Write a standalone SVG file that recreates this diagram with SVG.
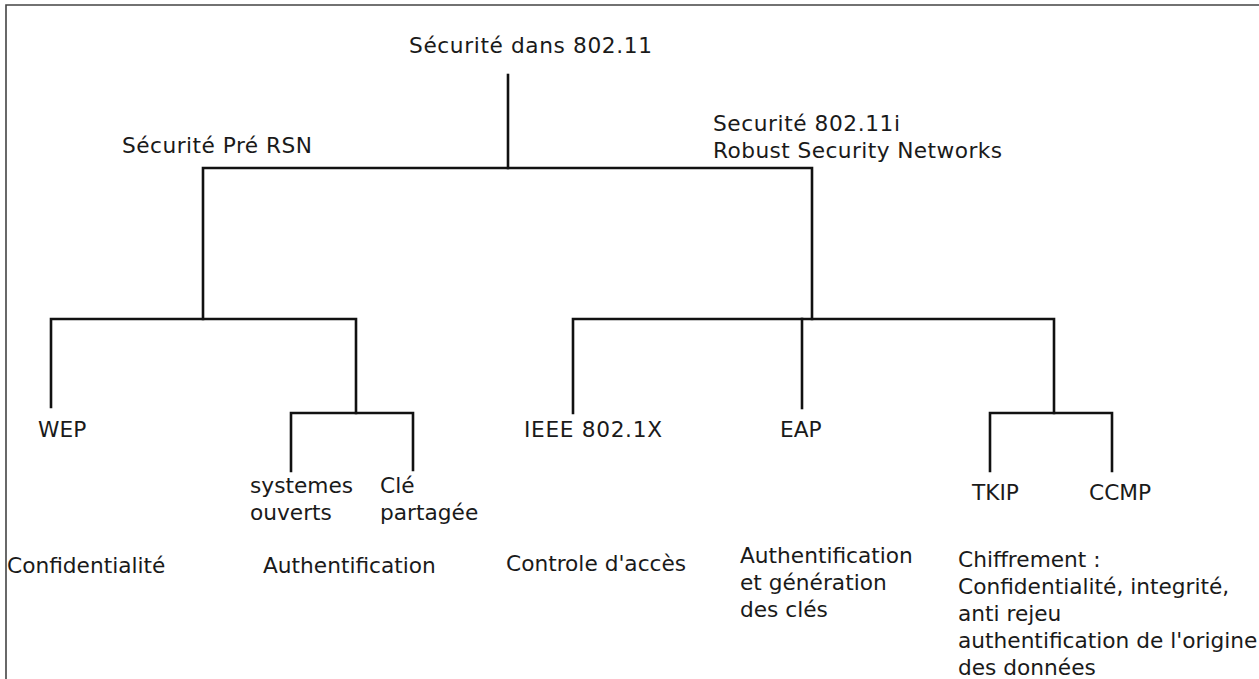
<svg xmlns="http://www.w3.org/2000/svg" width="1259" height="679" viewBox="0 0 1259 679">
<style>
text{font-family:"DejaVu Sans","Liberation Sans",sans-serif;font-size:21.7px;fill:#1a1a1a}
.c{fill:none;stroke:#111;stroke-width:2.6;stroke-linecap:square;stroke-linejoin:miter}
.b{fill:none;stroke:#444;stroke-width:1.6}
</style>
<rect width="1259" height="679" fill="#fff"/>
<path class="b" d="M6,679 V5 H1259"/>
<g id="connectors">
<path class="c" d="M508,75 V168"/>
<path class="c" d="M203,319 V168 H812 V319"/>
<path class="c" d="M51,407 V319 H356 V413"/>
<path class="c" d="M291,471 V413 H413 V470"/>
<path class="c" d="M573,413 V319 H1054 V413"/>
<path class="c" d="M802,319 V408"/>
<path class="c" d="M990,471 V413 H1112 V471"/>
</g>
<g id="root"><text x="409" y="53" textLength="243" lengthAdjust="spacing">Sécurité dans 802.11</text></g>
<g id="prersn"><text x="122" y="153" textLength="190" lengthAdjust="spacing">Sécurité Pré RSN</text></g>
<g id="rsn"><text x="713" y="131" textLength="187" lengthAdjust="spacing">Securité 802.11i</text><text x="713" y="158" textLength="289" lengthAdjust="spacing">Robust Security Networks</text></g>
<g id="wep"><text x="38" y="437">WEP</text></g>
<g id="systemes"><text x="250" y="493">systemes</text><text x="250" y="520">ouverts</text></g>
<g id="cle"><text x="380" y="493">Clé</text><text x="380" y="520">partagée</text></g>
<g id="confidentialite"><text x="7" y="573">Confidentialité</text></g>
<g id="authentification"><text x="263" y="573">Authentification</text></g>
<g id="ieee"><text x="524" y="437" textLength="138" lengthAdjust="spacing">IEEE 802.1X</text></g>
<g id="eap"><text x="780" y="437">EAP</text></g>
<g id="tkip"><text x="972" y="500">TKIP</text></g>
<g id="ccmp"><text x="1089" y="500">CCMP</text></g>
<g id="controle"><text x="506" y="571">Controle d'accès</text></g>
<g id="authgen"><text x="740" y="563">Authentification</text><text x="740" y="590">et génération</text><text x="740" y="617">des clés</text></g>
<g id="chiffrement"><text x="958" y="567">Chiffrement :</text><text x="958" y="594">Confidentialité, integrité,</text><text x="958" y="621">anti rejeu</text><text x="958" y="648">authentification de l'origine</text><text x="958" y="675">des données</text></g>
</svg>
